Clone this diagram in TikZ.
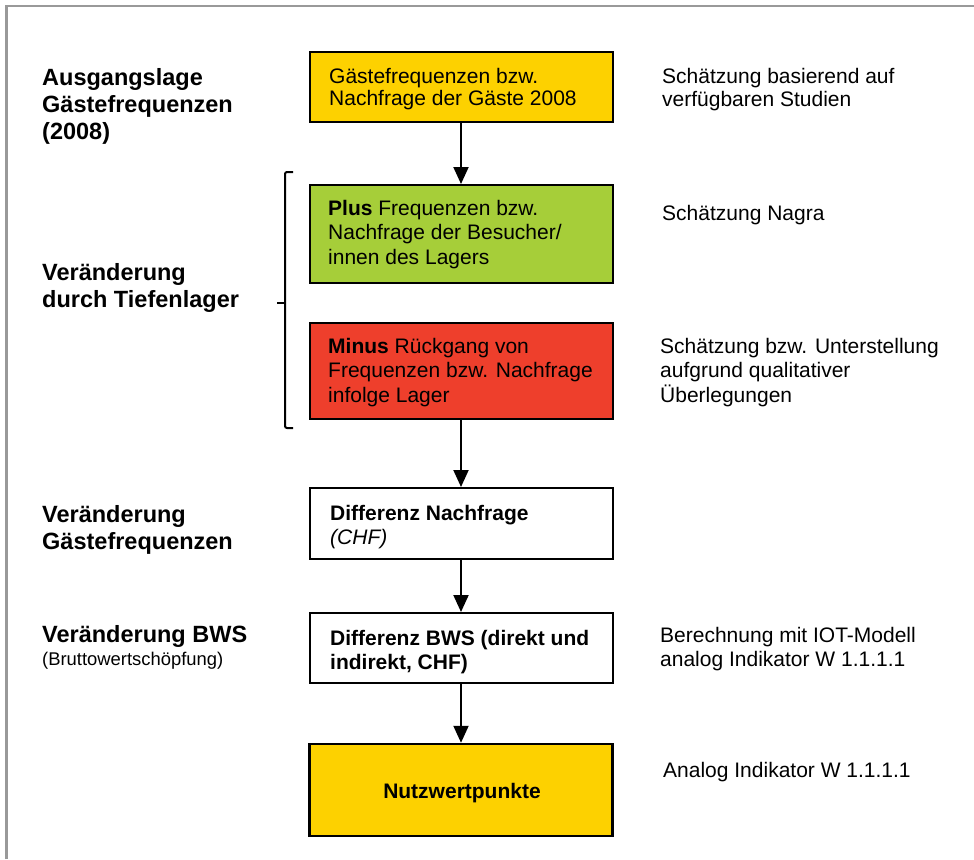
\documentclass[tikz,border=0pt]{standalone}
\usepackage{fontspec}
\setmainfont{Liberation Sans}
\usetikzlibrary{arrows.meta}
\definecolor{boxyellow}{HTML}{FDD100}
\definecolor{boxgreen}{HTML}{A6CE39}
\definecolor{boxred}{HTML}{EE3F2C}
\definecolor{framegray}{HTML}{999999}
\newcommand\mlines[1]{\vtop{\halign{##\hfil\cr#1\crcr}}}
\begin{document}
\begin{tikzpicture}[x=1pt,y=-1pt,
  flowbox/.style={draw=black,line width=2pt,rectangle,inner sep=0pt,minimum width=303pt},
  boxtext/.style={anchor=base west,inner sep=0pt,font=\fontsize{21}{24.5}\selectfont},
  sidetext/.style={anchor=base west,inner sep=0pt,font=\fontsize{21}{24.5}\selectfont},
  stagelabel/.style={anchor=base west,inner sep=0pt,font=\fontsize{23.5}{27}\selectfont\bfseries},
  flowarrow/.style={line width=2pt,-{Triangle[width=15pt,length=17pt]}},
  bracket/.style={line width=2pt}
]
\useasboundingbox (0,0) rectangle (974,859);
% frame
\draw[framegray,line width=2.5pt] (6.5,859) -- (6.5,6) -- (974,6);

% boxes
\node[flowbox,fill=boxyellow,minimum height=70pt] (b1) at (461,87) {};
\node[flowbox,fill=boxgreen,minimum height=98pt] (b2) at (461,234) {};
\node[flowbox,fill=boxred,minimum height=96pt] (b3) at (461,371) {};
\node[flowbox,fill=white,minimum height=71pt] (b4) at (461,523.5) {};
\node[flowbox,fill=white,minimum height=70pt] (b5) at (461,648) {};
\node[flowbox,fill=boxyellow,minimum height=92pt,line width=2.5pt] (b6) at (461,790) {};

% arrows
\draw[flowarrow] (b1.south) -- (b2.north);
\draw[flowarrow] (b3.south) -- (b4.north);
\draw[flowarrow] (b4.south) -- (b5.north);
\draw[flowarrow] (b5.south) -- (b6.north);

% box texts
\node[boxtext,font=\fontsize{21}{22}\selectfont] (t1) at (329,83) {\mlines{Gästefrequenzen bzw.\cr Nachfrage der Gäste 2008}};
\node[boxtext] (t2) at (328,215) {\mlines{\textbf{Plus} Frequenzen bzw.\cr Nachfrage der Besucher/\cr innen des Lagers}};
\node[boxtext] (t3) at (328,353) {\mlines{\textbf{Minus} Rückgang von\cr Frequenzen bzw. Nachfrage\cr infolge Lager}};
\node[boxtext] (t4) at (330,520) {\mlines{\textbf{Differenz Nachfrage}\cr \textit{(CHF)}}};
\node[boxtext,font=\fontsize{21}{24}\selectfont\bfseries] (t5) at (330,645) {\mlines{Differenz BWS (direkt und\cr indirekt, CHF)}};
\node[anchor=base,inner sep=0pt,font=\fontsize{21}{24}\selectfont\bfseries] (t6) at (462,798) {Nutzwertpunkte};

% left stage labels
\node[stagelabel] (l1) at (42,85) {\mlines{Ausgangslage\cr Gästefrequenzen\cr (2008)}};
\node[stagelabel] (l2) at (42,280) {\mlines{Veränderung\cr durch Tiefenlager}};
\node[stagelabel] (l3) at (42,522) {\mlines{Veränderung\cr Gästefrequenzen}};
\node[stagelabel] (l4) at (42,642) {Veränderung BWS};
\node[anchor=base west,inner sep=0pt,font=\fontsize{18.4}{21}\selectfont] (l4b) at (42,665) {(Bruttowertschöpfung)};

% bracket
\coordinate (bt) at (293,172);
\coordinate (bb) at (293,428);
\coordinate (bm) at (285,303);
\coordinate (bk) at (277,303);
\draw[bracket,rounded corners=2pt] (bt) -- (285,172) -- (285,428) -- (bb);
\draw[bracket] (bm) -- (bk);

% right side texts
\node[sidetext,font=\fontsize{21}{23}\selectfont] (r1) at (662,83) {\mlines{Schätzung basierend auf\cr verfügbaren Studien}};
\node[sidetext] (r2) at (662,220) {Schätzung Nagra};
\node[sidetext] (r3) at (660,353) {\mlines{Schätzung bzw. Unterstellung\cr aufgrund qualitativer\cr Überlegungen}};
\node[sidetext] (r4) at (660,642) {\mlines{Berechnung mit IOT-Modell\cr analog Indikator W 1.1.1.1}};
\node[sidetext] (r5) at (663,777) {Analog Indikator W 1.1.1.1};
\end{tikzpicture}
\end{document}
